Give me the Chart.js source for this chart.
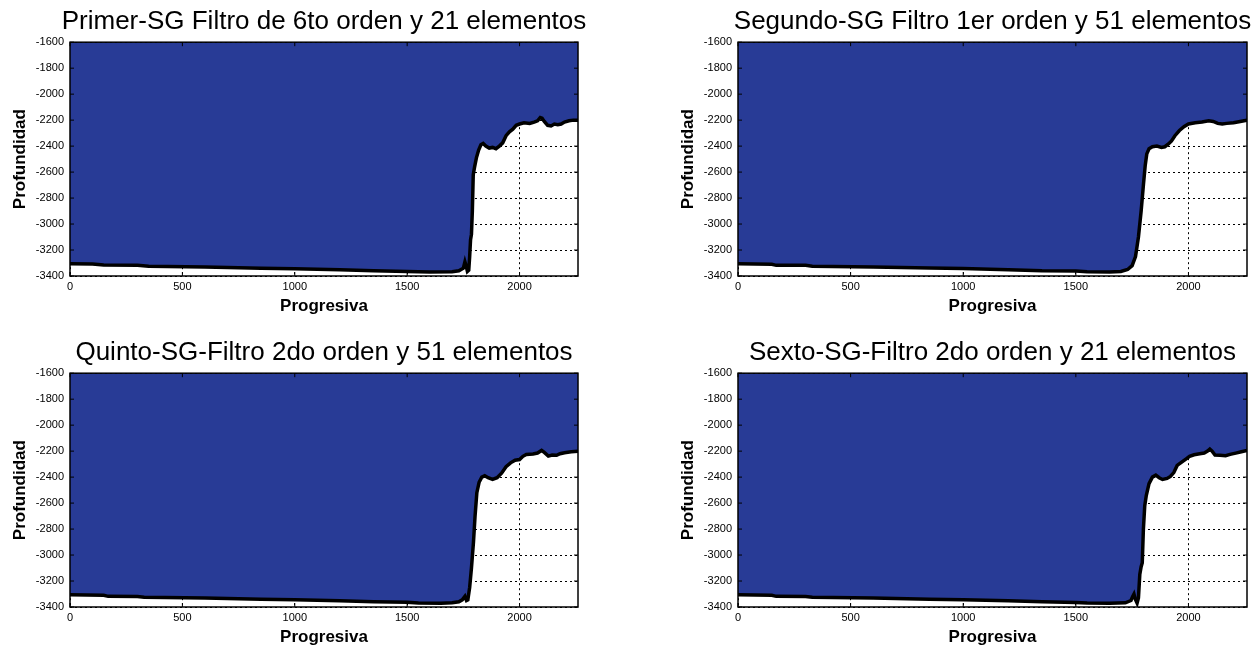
<!DOCTYPE html>
<html>
<head>
<meta charset="utf-8">
<script src="https://cdn.jsdelivr.net/npm/chart.js@4/dist/chart.umd.min.js"></script>
<style>
  html, body { margin: 0; padding: 0; background: #fff; overflow: hidden; }
  body { width: 1253px; height: 648px; position: relative; }
  canvas { position: absolute; }
</style>
</head>
<body>
<canvas id="primer" width="648" height="320" style="left:0;top:0"></canvas>
<canvas id="segundo" width="649" height="320" style="left:668px;top:0"></canvas>
<canvas id="quinto" width="648" height="320" style="left:0;top:331px"></canvas>
<canvas id="sexto" width="649" height="320" style="left:668px;top:331px"></canvas>
<script>
'use strict';

// Primer-SG: 6to orden, 21 elementos
const progresivaPrimer = [0, 100, 150, 300, 350, 600, 850, 1000, 1200, 1350, 1500, 1600, 1700, 1730, 1750, 1757, 1762, 1768, 1774, 1778, 1782, 1786, 1790, 1794, 1800, 1808, 1818, 1828, 1838, 1850, 1865, 1880, 1895, 1910, 1925, 1940, 1955, 1970, 1985, 2000, 2020, 2045, 2065, 2080, 2092, 2100, 2110, 2125, 2140, 2155, 2170, 2185, 2200, 2220, 2240, 2260];
const profundidadPrimer = [-3305, -3308, -3315, -3318, -3325, -3330, -3340, -3345, -3352, -3360, -3365, -3370, -3368, -3360, -3340, -3290, -3320, -3365, -3355, -3250, -3120, -3080, -2900, -2620, -2560, -2490, -2430, -2390, -2380, -2400, -2415, -2410, -2420, -2400, -2375, -2320, -2290, -2270, -2240, -2230, -2220, -2225, -2215, -2205, -2180, -2185, -2210, -2240, -2245, -2230, -2235, -2230, -2215, -2205, -2200, -2200];

// Segundo-SG: 1er orden, 51 elementos
const progresivaSegundo = [0, 150, 170, 300, 330, 600, 850, 1000, 1200, 1350, 1500, 1550, 1650, 1700, 1730, 1750, 1765, 1778, 1790, 1800, 1808, 1815, 1825, 1840, 1860, 1880, 1895, 1910, 1925, 1940, 1960, 1980, 2000, 2030, 2060, 2090, 2110, 2130, 2150, 2170, 2200, 2230, 2260];
const profundidadSegundo = [-3305, -3310, -3318, -3318, -3325, -3330, -3338, -3342, -3352, -3360, -3362, -3368, -3370, -3365, -3350, -3320, -3250, -3100, -2900, -2700, -2550, -2460, -2420, -2405, -2400, -2410, -2405, -2385, -2360, -2320, -2280, -2250, -2230, -2220, -2215, -2205, -2210, -2225, -2230, -2225, -2220, -2210, -2200];

// Quinto-SG: 2do orden, 51 elementos
const progresivaQuinto = [0, 150, 170, 300, 330, 600, 850, 1000, 1200, 1350, 1500, 1550, 1650, 1700, 1730, 1745, 1757, 1764, 1770, 1778, 1786, 1795, 1802, 1810, 1820, 1832, 1845, 1860, 1880, 1900, 1920, 1940, 1960, 1980, 2000, 2015, 2030, 2060, 2080, 2098, 2110, 2128, 2145, 2165, 2180, 2200, 2230, 2260];
const profundidadQuinto = [-3305, -3310, -3318, -3320, -3325, -3330, -3340, -3345, -3352, -3360, -3363, -3370, -3372, -3368, -3360, -3345, -3318, -3350, -3345, -3250, -3100, -2900, -2700, -2520, -2440, -2400, -2390, -2405, -2418, -2405, -2370, -2320, -2290, -2270, -2265, -2240, -2225, -2222, -2215, -2195, -2210, -2238, -2230, -2232, -2220, -2212, -2205, -2200];

// Sexto-SG: 2do orden, 21 elementos
const progresivaSexto = [0, 150, 170, 300, 330, 600, 850, 1000, 1200, 1350, 1500, 1550, 1650, 1720, 1745, 1752, 1758, 1764, 1772, 1778, 1784, 1790, 1795, 1800, 1806, 1813, 1825, 1840, 1855, 1870, 1885, 1905, 1920, 1935, 1950, 1970, 1990, 2005, 2025, 2050, 2070, 2085, 2095, 2105, 2118, 2140, 2165, 2185, 2210, 2235, 2260];
const profundidadSexto = [-3305, -3310, -3318, -3320, -3325, -3330, -3340, -3345, -3352, -3360, -3365, -3370, -3372, -3368, -3350, -3320, -3300, -3340, -3370, -3330, -3150, -3090, -3060, -2800, -2620, -2540, -2450, -2400, -2385, -2405, -2418, -2410, -2395, -2365, -2310, -2285, -2260, -2240, -2228, -2220, -2215, -2200, -2185, -2200, -2230, -2232, -2235, -2225, -2215, -2205, -2195];

const xTicks = [0, 500, 1000, 1500, 2000];
const xMin = 0;
const xMax = 2260;
const yMin = -3400;
const yMax = -1600;
const yStep = 200;

const fillBlue = '#283b96';
const fontFamily = "'Liberation Sans', Arial, sans-serif";

// caja negra alrededor del area y ticks hacia adentro (estilo matlab)
const framePlugin = {
  id: 'frame',
  afterDatasetsDraw(chart) {
    const { ctx, chartArea } = chart;
    const xScale = chart.scales.x;
    const yScale = chart.scales.y;
    ctx.save();
    ctx.setLineDash([]);
    ctx.strokeStyle = '#000';
    ctx.lineWidth = 1.5;
    ctx.strokeRect(chartArea.left, chartArea.top, chartArea.right - chartArea.left, chartArea.bottom - chartArea.top);
    ctx.lineWidth = 1;
    ctx.beginPath();
    xScale.ticks.forEach((tick) => {
      const px = xScale.getPixelForValue(tick.value);
      ctx.moveTo(px, chartArea.bottom);
      ctx.lineTo(px, chartArea.bottom - 4);
      ctx.moveTo(px, chartArea.top);
      ctx.lineTo(px, chartArea.top + 4);
    });
    yScale.ticks.forEach((tick) => {
      const py = yScale.getPixelForValue(tick.value);
      ctx.moveTo(chartArea.left, py);
      ctx.lineTo(chartArea.left + 4, py);
      ctx.moveTo(chartArea.right, py);
      ctx.lineTo(chartArea.right - 4, py);
    });
    ctx.stroke();
    ctx.restore();
  }
};

function makeChart(canvasId, title, progresiva, profundidad, rightSpace) {
  const points = progresiva.map((x, i) => ({ x: x, y: profundidad[i] }));
  return new Chart(document.getElementById(canvasId), {
    type: 'line',
    data: {
      datasets: [{
        data: points,
        borderColor: '#000',
        borderWidth: 3.5,
        backgroundColor: fillBlue,
        fill: 'end',
        pointRadius: 0,
        tension: 0,
      }]
    },
    options: {
      responsive: false,
      animation: false,
      plugins: {
        legend: { display: false },
        tooltip: { enabled: false },
        title: {
          display: true,
          text: title,
          color: '#000',
          font: { family: fontFamily, size: 26, weight: 'normal' },
          padding: { top: 6, bottom: 5 },
        },
      },
      scales: {
        x: {
          type: 'linear',
          min: xMin,
          max: xMax,
          afterFit: (scale) => { scale.height = 44; },
          afterBuildTicks: (scale) => { scale.ticks = xTicks.map((v) => ({ value: v })); },
          border: { display: false, dash: [2, 3] },
          grid: { color: '#000', lineWidth: 1, drawTicks: false },
          ticks: {
            padding: 4,
            color: '#000',
            font: { family: fontFamily, size: 11 },
            maxRotation: 0,
            callback: (value) => String(value),
          },
          title: {
            display: true,
            text: 'Progresiva',
            color: '#000',
            font: { family: fontFamily, size: 17, weight: 'bold' },
            padding: { top: 0, bottom: 3 },
          },
        },
        y: {
          min: yMin,
          max: yMax,
          afterFit: (scale) => { scale.width = 70; },
          border: { display: false, dash: [2, 3] },
          grid: { color: '#000', lineWidth: 1, drawTicks: false },
          ticks: {
            stepSize: yStep,
            padding: 6,
            color: '#000',
            font: { family: fontFamily, size: 11 },
            callback: (value) => String(value),
          },
          title: {
            display: true,
            text: 'Profundidad',
            color: '#000',
            font: { family: fontFamily, size: 17, weight: 'bold' },
            padding: { top: 10, bottom: 0 },
          },
        },
        // eje vacio a la derecha, solo para centrar el titulo sobre el area
        yRight: {
          type: 'linear',
          position: 'right',
          afterFit: (scale) => { scale.width = rightSpace; },
          border: { display: false },
          grid: { display: false, drawTicks: false },
          ticks: { display: false },
        },
      },
    },
    plugins: [framePlugin],
  });
}

makeChart('primer', 'Primer-SG Filtro de 6to orden y 21 elementos', progresivaPrimer, profundidadPrimer, 70);
makeChart('segundo', 'Segundo-SG Filtro 1er orden y 51 elementos', progresivaSegundo, profundidadSegundo, 70);
makeChart('quinto', 'Quinto-SG-Filtro 2do orden y 51 elementos', progresivaQuinto, profundidadQuinto, 70);
makeChart('sexto', 'Sexto-SG-Filtro 2do orden y 21 elementos', progresivaSexto, profundidadSexto, 70);
</script>
</body>
</html>
